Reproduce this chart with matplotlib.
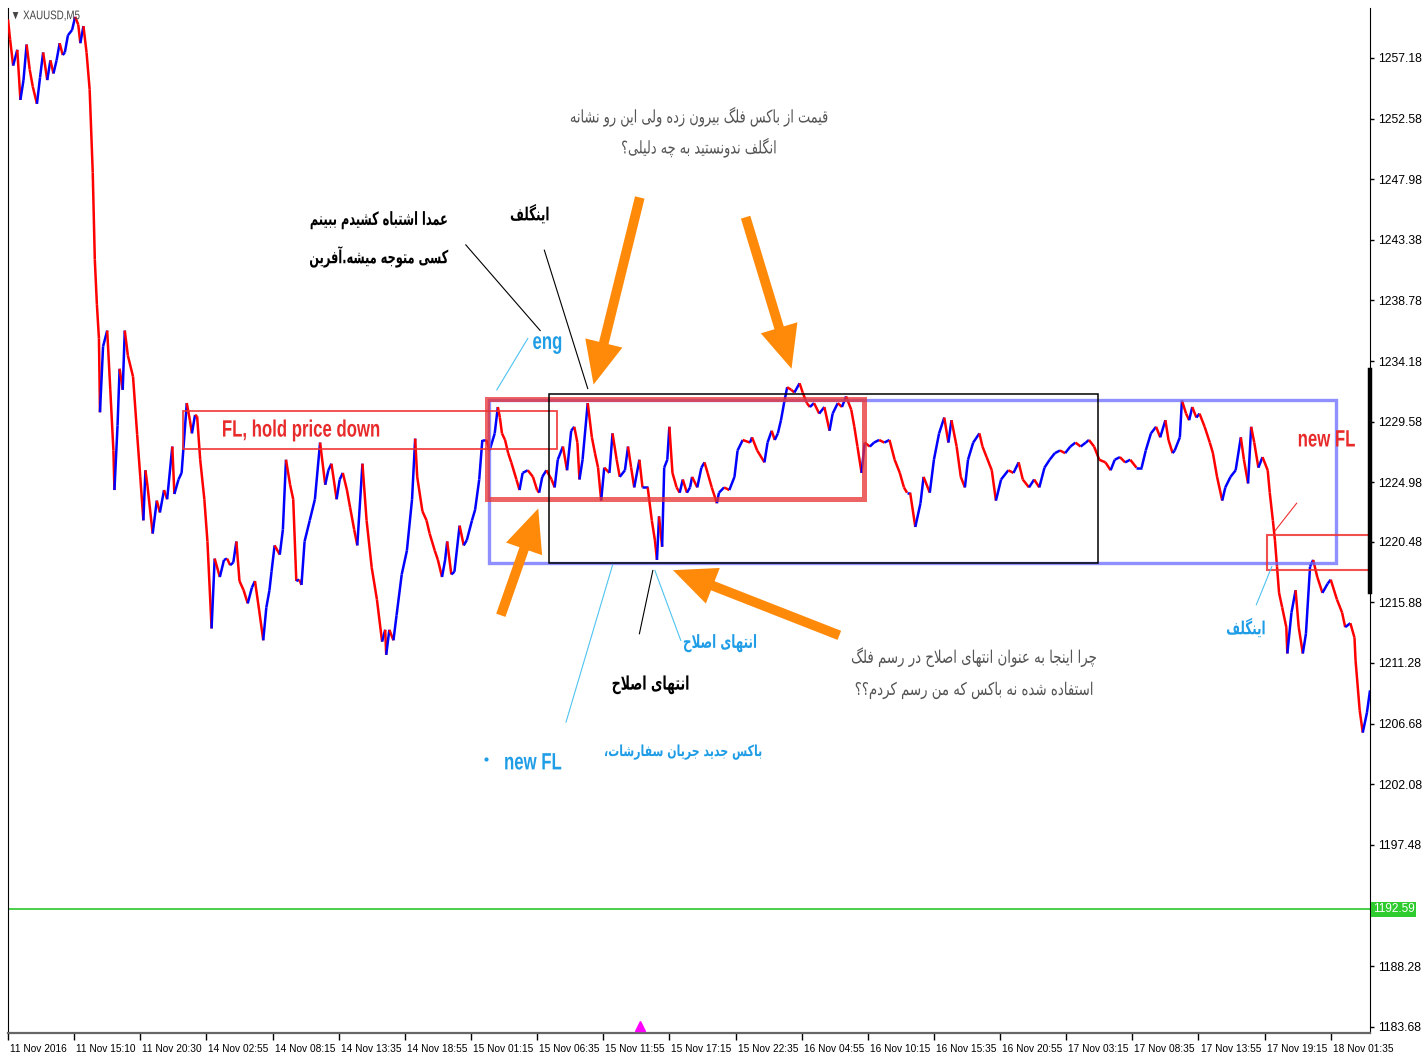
import numpy as np
import matplotlib
matplotlib.use('Agg')
import matplotlib.pyplot as plt
import matplotlib.transforms as mtransforms
from matplotlib.collections import LineCollection
from matplotlib.patches import Rectangle, FancyArrowPatch
from matplotlib.patheffects import AbstractPathEffect

# ---- data (bar index of M5 bars, price) ----
bar_idx = [0, 2, 5, 9, 12, 15, 18, 21, 24, 28, 31, 34, 38, 41, 44, 47, 50, 53, 55, 58,
           62, 65, 68, 70, 73, 76, 79, 82, 84, 86, 88, 89, 92, 96, 99, 102, 103, 106, 108, 111,
           113, 116, 121, 125, 128, 131, 133, 135, 140, 144, 147, 151, 154, 159, 161, 165, 168, 173, 176, 178,
           181, 183, 186, 190, 193, 197, 200, 205, 209, 212, 215, 218, 221, 224, 228, 232, 236, 239, 243, 247,
           250, 253, 255, 258, 263, 266, 269, 273, 276, 279, 282, 284, 287, 292, 297, 302, 307, 310, 313, 318,
           321, 324, 328, 331, 335, 338, 343, 347, 352, 357, 362, 365, 366, 369, 373, 376, 381, 386, 391, 394,
           396, 401, 405, 408, 413, 416, 420, 423, 425, 429, 432, 437, 441, 444, 449, 452, 456, 459, 463, 466,
           471, 474, 476, 478, 481, 484, 487, 492, 495, 498, 503, 508, 512, 514, 517, 521, 526, 529, 532, 537,
           541, 545, 548, 551, 553, 556, 561, 565, 568, 571, 574, 577, 582, 585, 589, 592, 597, 600, 603, 606,
           611, 614, 619, 623, 626, 628, 630, 633, 635, 638, 640, 643, 647, 650, 653, 657, 660, 662, 667, 671,
           674, 677, 681, 686, 688, 693, 698, 703, 706, 711, 718, 720, 725, 732, 735, 739, 742, 745, 748, 751,
           754, 758, 761, 766, 769, 773, 776, 780, 785, 790, 795, 798, 803, 807, 811, 816, 819, 822, 826, 829,
           834, 838, 843, 848, 853, 858, 863, 867, 870, 873, 878, 883, 886, 892, 896, 901, 906, 910, 913, 918,
           922, 926, 929, 934, 940, 943, 947, 952, 956, 961, 968, 973, 978, 982, 988, 993, 998, 1003, 1008, 1013,
           1018, 1023, 1028, 1033, 1038, 1043, 1046, 1051, 1056, 1062, 1067, 1071, 1076, 1081, 1086, 1092, 1097, 1101, 1106, 1111,
           1115, 1120, 1123, 1127, 1129, 1134, 1136, 1140, 1143, 1146, 1150, 1153, 1158, 1163, 1166, 1170, 1175, 1178, 1183, 1188,
           1193, 1196, 1200, 1203, 1206, 1210, 1214, 1219, 1221, 1224, 1226, 1228, 1230, 1233, 1237, 1238, 1242, 1246, 1249, 1253,
           1256, 1260, 1263, 1267, 1272, 1277, 1280, 1286, 1291, 1294, 1299, 1303, 1304, 1308, 1311, 1315, 1318]

close = [1260.1, 1258.6, 1256.6, 1257.8, 1254.0, 1255.5, 1258.2, 1256.3, 1255.0, 1253.7, 1255.7, 1257.6, 1255.5, 1257.0, 1256.0, 1257.0, 1258.3, 1257.4, 1257.6, 1258.9,
         1259.3, 1260.3, 1259.7, 1258.3, 1259.6, 1257.6, 1254.8, 1248.5, 1241.9, 1238.5, 1235.9, 1230.3, 1235.3, 1236.5, 1232.0, 1227.4, 1224.4, 1229.3, 1233.6, 1232.0,
         1236.5, 1234.6, 1233.0, 1228.6, 1225.4, 1222.1, 1225.9, 1224.7, 1221.1, 1223.6, 1222.7, 1224.4, 1223.7, 1227.7, 1224.1, 1225.2, 1225.7, 1231.0, 1229.7, 1228.7,
         1230.1, 1230.0, 1226.7, 1223.7, 1220.5, 1213.9, 1219.2, 1217.8, 1219.1, 1219.2, 1218.7, 1218.9, 1220.5, 1217.5, 1216.8, 1215.8, 1217.0, 1217.5, 1215.3, 1213.0,
         1215.5, 1216.8, 1218.2, 1220.2, 1219.5, 1221.4, 1226.7, 1224.8, 1223.7, 1217.5, 1217.6, 1217.2, 1220.5, 1222.1, 1223.7, 1228.0, 1224.8, 1225.9, 1226.4, 1223.7,
         1225.2, 1225.7, 1224.4, 1223.1, 1221.4, 1220.2, 1226.4, 1222.1, 1218.5, 1216.1, 1212.9, 1213.8, 1211.9, 1213.8, 1213.0, 1214.9, 1218.0, 1219.8, 1223.7, 1228.3,
         1225.4, 1222.8, 1222.1, 1221.1, 1219.8, 1219.1, 1217.8, 1219.1, 1220.5, 1218.0, 1218.2, 1221.7, 1220.2, 1220.6, 1222.1, 1222.9, 1225.2, 1228.2, 1228.2, 1227.4,
         1228.7, 1230.7, 1229.9, 1228.7, 1228.2, 1227.2, 1226.5, 1225.2, 1224.4, 1225.7, 1225.9, 1225.4, 1224.4, 1224.2, 1225.4, 1225.9, 1225.2, 1224.6, 1226.7, 1227.7,
         1225.9, 1228.9, 1229.2, 1228.0, 1225.2, 1226.7, 1231.0, 1228.4, 1227.2, 1226.1, 1223.6, 1226.1, 1225.7, 1228.7, 1226.7, 1225.4, 1225.9, 1227.7, 1226.1, 1224.6,
         1226.7, 1224.6, 1224.6, 1222.1, 1220.6, 1219.1, 1222.4, 1220.1, 1226.1, 1226.7, 1229.2, 1225.7, 1224.6, 1224.2, 1225.2, 1224.2, 1224.6, 1225.4, 1224.6, 1226.1,
         1226.5, 1225.7, 1224.6, 1223.4, 1224.2, 1224.6, 1224.4, 1225.4, 1227.4, 1228.2, 1228.0, 1228.4, 1227.4, 1226.5, 1228.0, 1228.9, 1228.2, 1228.7, 1229.7, 1231.0,
         1232.2, 1232.0, 1231.8, 1232.5, 1231.8, 1231.0, 1230.7, 1231.0, 1230.2, 1230.7, 1228.9, 1230.2, 1231.0, 1230.7, 1231.5, 1230.5, 1229.2, 1227.7, 1225.7, 1228.0,
         1227.7, 1228.0, 1228.2, 1228.0, 1228.2, 1226.7, 1225.7, 1224.6, 1224.2, 1224.2, 1221.6, 1223.4, 1225.4, 1224.2, 1226.7, 1228.7, 1229.9, 1228.0, 1229.7, 1227.7,
         1225.4, 1224.6, 1226.7, 1228.0, 1228.7, 1227.7, 1226.9, 1225.9, 1223.6, 1225.2, 1225.9, 1225.7, 1226.5, 1225.2, 1224.6, 1225.2, 1224.6, 1226.1, 1226.7, 1227.2,
         1227.4, 1227.2, 1227.7, 1228.0, 1227.7, 1228.0, 1228.2, 1227.7, 1226.7, 1226.5, 1225.9, 1226.7, 1226.9, 1226.5, 1226.7, 1226.1, 1226.1, 1227.4, 1228.7, 1229.2,
         1228.4, 1229.7, 1228.2, 1227.2, 1227.4, 1228.4, 1231.2, 1230.2, 1229.7, 1230.7, 1229.9, 1230.2, 1229.2, 1228.0, 1227.2, 1225.4, 1223.6, 1224.6, 1225.4, 1225.9,
         1228.4, 1226.7, 1224.9, 1229.2, 1228.0, 1226.1, 1226.9, 1225.9, 1224.2, 1222.1, 1220.6, 1218.6, 1216.6, 1215.5, 1214.0, 1212.0, 1215.1, 1216.8, 1214.0, 1212.0,
         1213.5, 1218.6, 1219.1, 1217.8, 1216.6, 1217.3, 1217.6, 1216.1, 1215.1, 1214.0, 1214.3, 1213.2, 1211.5, 1207.7, 1206.0, 1207.5, 1209.2]

price_ticks = [1257.18, 1252.58, 1247.98, 1243.38, 1238.78, 1234.18, 1229.58, 1224.98,
               1220.48, 1215.88, 1211.28, 1206.68, 1202.08, 1197.48, 1188.28, 1183.68]
time_labels = ['11 Nov 2016', '11 Nov 15:10', '11 Nov 20:30', '14 Nov 02:55', '14 Nov 08:15',
               '14 Nov 13:35', '14 Nov 18:55', '15 Nov 01:15', '15 Nov 06:35', '15 Nov 11:55',
               '15 Nov 17:15', '15 Nov 22:35', '16 Nov 04:55', '16 Nov 10:15', '16 Nov 15:35',
               '16 Nov 20:55', '17 Nov 03:15', '17 Nov 08:35', '17 Nov 13:55', '17 Nov 19:15',
               '18 Nov 01:35']
bars_per_label = 64
current_price = 1192.59

# boxes drawn on the chart: (first bar, last bar, low, high)
fl_box = (169, 531, 1227.5, 1230.4)
flag_box = (464, 828, 1223.7, 1231.3)
range_box = (524, 1055, 1218.9, 1231.7)
blue_box = (465, 1285, 1218.9, 1231.2)
new_fl_box = (1218, 1340, 1218.3, 1221.0)

# ---- Persian text shaping (matplotlib has no Arabic shaping / bidi) ----
FORMS = {
    '\u0622': ('\uFE81', '\uFE82', None, None),
    '\u0627': ('\uFE8D', '\uFE8E', None, None),
    '\u0628': ('\uFE8F', '\uFE90', '\uFE91', '\uFE92'),
    '\u067E': ('\uFB56', '\uFB57', '\uFB58', '\uFB59'),
    '\u062A': ('\uFE95', '\uFE96', '\uFE97', '\uFE98'),
    '\u062B': ('\uFE99', '\uFE9A', '\uFE9B', '\uFE9C'),
    '\u062C': ('\uFE9D', '\uFE9E', '\uFE9F', '\uFEA0'),
    '\u0686': ('\uFB7A', '\uFB7B', '\uFB7C', '\uFB7D'),
    '\u062D': ('\uFEA1', '\uFEA2', '\uFEA3', '\uFEA4'),
    '\u062E': ('\uFEA5', '\uFEA6', '\uFEA7', '\uFEA8'),
    '\u062F': ('\uFEA9', '\uFEAA', None, None),
    '\u0630': ('\uFEAB', '\uFEAC', None, None),
    '\u0631': ('\uFEAD', '\uFEAE', None, None),
    '\u0632': ('\uFEAF', '\uFEB0', None, None),
    '\u0698': ('\uFB8A', '\uFB8B', None, None),
    '\u0633': ('\uFEB1', '\uFEB2', '\uFEB3', '\uFEB4'),
    '\u0634': ('\uFEB5', '\uFEB6', '\uFEB7', '\uFEB8'),
    '\u0635': ('\uFEB9', '\uFEBA', '\uFEBB', '\uFEBC'),
    '\u0636': ('\uFEBD', '\uFEBE', '\uFEBF', '\uFEC0'),
    '\u0637': ('\uFEC1', '\uFEC2', '\uFEC3', '\uFEC4'),
    '\u0638': ('\uFEC5', '\uFEC6', '\uFEC7', '\uFEC8'),
    '\u0639': ('\uFEC9', '\uFECA', '\uFECB', '\uFECC'),
    '\u063A': ('\uFECD', '\uFECE', '\uFECF', '\uFED0'),
    '\u0641': ('\uFED1', '\uFED2', '\uFED3', '\uFED4'),
    '\u0642': ('\uFED5', '\uFED6', '\uFED7', '\uFED8'),
    '\u06A9': ('\uFB8E', '\uFB8F', '\uFB90', '\uFB91'),
    '\u06AF': ('\uFB92', '\uFB93', '\uFB94', '\uFB95'),
    '\u0644': ('\uFEDD', '\uFEDE', '\uFEDF', '\uFEE0'),
    '\u0645': ('\uFEE1', '\uFEE2', '\uFEE3', '\uFEE4'),
    '\u0646': ('\uFEE5', '\uFEE6', '\uFEE7', '\uFEE8'),
    '\u0648': ('\uFEED', '\uFEEE', None, None),
    '\u0647': ('\uFEE9', '\uFEEA', '\uFEEB', '\uFEEC'),
    '\u06CC': ('\uFBFC', '\uFBFD', '\uFBFE', '\uFBFF'),
}
LAM_ALEF = {'\u0627': ('\uFEFB', '\uFEFC'), '\u0622': ('\uFEF5', '\uFEF6')}


def fa(text):
    chars = list(text)
    out = []
    i = 0
    while i < len(chars):
        c = chars[i]
        prev = chars[i - 1] if i > 0 else None
        joins_prev = prev in FORMS and FORMS[prev][2] is not None
        if c not in FORMS:
            out.append(c)
            i += 1
            continue
        nxt = chars[i + 1] if i + 1 < len(chars) else None
        if c == '\u0644' and nxt in LAM_ALEF:
            out.append(LAM_ALEF[nxt][1 if joins_prev else 0])
            i += 2
            continue
        iso, fin, ini, med = FORMS[c]
        joins_next = ini is not None and nxt in FORMS
        if joins_prev and joins_next:
            out.append(med)
        elif joins_prev:
            out.append(fin)
        elif joins_next:
            out.append(ini)
        else:
            out.append(iso)
        i += 1
    return ''.join(reversed(out))


# the screenshot's fonts are squeezed sideways; draw text narrower around its anchor
class Squeeze(AbstractPathEffect):
    def __init__(self, text, sx):
        super().__init__()
        self.text = text
        self.sx = sx

    def draw_path(self, renderer, gc, tpath, affine, rgbFace=None):
        x0 = self.text.get_transform().transform(self.text.get_unitless_position())[0]
        sq = mtransforms.Affine2D().translate(-x0, 0).scale(self.sx, 1).translate(x0, 0)
        renderer.draw_path(gc, tpath, affine + sq, rgbFace)


def squeeze(t, sx):
    t.set_path_effects([Squeeze(t, sx)])
    return t


# ---- figure ----
fig = plt.figure(figsize=(14.22, 10.58), dpi=100)
ax = fig.add_axes([8 / 1422, 25 / 1058, 1362 / 1422, 1025 / 1058])
ax.set_xlim(0, 1318)
ax.set_ylim(1183.21, 1260.97)

latin = ['Liberation Sans', 'DejaVu Sans']
fa_font = ['DejaVu Sans']

# price line, blue when rising, red when falling
pts = np.column_stack([bar_idx, close])
segs = np.stack([pts[:-1], pts[1:]], axis=1)
cols = ['#0000ff' if b >= a else '#ff0000' for a, b in zip(close[:-1], close[1:])]
ax.add_collection(LineCollection(segs, colors=cols, linewidths=1.8, zorder=3))

ax.axhline(current_price, color='#3ccc3c', lw=1.3, zorder=2)

# boxes
def box(b, color, lw, alpha=1.0, z=4):
    x0, x1, lo, hi = b
    ax.add_patch(Rectangle((x0, lo), x1 - x0, hi - lo, fill=False, edgecolor=color,
                           lw=lw, alpha=alpha, zorder=z))

box(blue_box, '#6a6aff', 2.4, 0.75)
box(fl_box, '#f03030', 1.3, 0.9)
box(flag_box, '#e83030', 3.6, 0.75)
box(range_box, '#000000', 1.1)
box(new_fl_box, '#f03030', 1.5, 0.85)

# thin pointer lines
def seg(p0, p1, color, lw=0.8):
    ax.plot([p0[0], p1[0]], [p0[1], p1[1]], color=color, lw=lw, zorder=5)

seg((443, 1243.0), (515, 1236.5), 'black')
seg((519, 1242.6), (561, 1232.1), 'black')
seg((503, 1235.9), (473, 1232.0), '#4fc3f0')
seg((585, 1218.7), (540, 1206.8), '#4fc3f0')
seg((624, 1218.3), (611, 1213.5), 'black')
seg((626, 1218.3), (651, 1213.0), '#4fc3f0')
seg((1247, 1223.4), (1226, 1221.3), '#f03030')
seg((1223, 1218.6), (1208, 1215.7), '#4fc3f0')

# orange arrows (tail -> tip)
arrows = [((612, 1246.8), (566, 1232.2)),
          ((713, 1245.3), (759, 1233.4)),
          ((476, 1214.7), (514, 1223.2)),
          ((807, 1213.3), (641, 1218.4))]
for tail, tip in arrows:
    ax.add_patch(FancyArrowPatch(tail, tip, arrowstyle='simple,head_length=1.4,head_width=1.25,tail_width=0.32',
                                 mutation_scale=22, color='#ff8a0a', lw=0, zorder=6))

# annotations
light_blue = '#1f9de6'
gray = '#555555'


def note(x, y, s, size, sx, color, bold=False, ha='center'):
    t = ax.text(x, y, fa(s), family=fa_font, fontsize=size, color=color, ha=ha, va='center',
                fontweight='bold' if bold else 'normal', zorder=7)
    squeeze(t, sx)


note(669, 1252.7, 'قیمت از باکس فلگ بیرون زده ولی این رو نشانه', 12.5, 0.744, gray)
note(669, 1250.35, 'انگلف ندونستید به چه دلیلی؟', 12.5, 0.744, gray)
note(426, 1244.9, 'عمدا اشتباه کشیدم ببینم', 13, 0.63, 'black', True, 'right')
note(426, 1242.1, 'کسی متوجه میشه.آفرین', 13, 0.63, 'black', True, 'right')
note(505, 1245.3, 'اینگلف', 13, 0.66, 'black', True)
note(689, 1212.8, 'انتهای اصلاح', 13, 0.66, light_blue, True)
note(622, 1209.6, 'انتهای اصلاح', 13.5, 0.667, 'black', True)
note(935, 1211.7, 'چرا اینجا به عنوان انتهای اصلاح در رسم فلگ', 12.5, 0.768, gray)
note(935, 1209.2, 'استفاده شده نه باکس که من رسم کردم؟؟', 12.5, 0.768, gray)
note(653, 1204.5, 'باکس جدید جریان سفارشات،', 11, 0.72, light_blue, True)
note(1198, 1213.9, 'اینگلف', 13, 0.66, light_blue, True)


def label(x, y, s, color, ha='center'):
    t = ax.text(x, y, s, family=latin, fontsize=17, fontweight='bold', color=color,
                ha=ha, va='center', zorder=7)
    squeeze(t, 0.71)


label(508, 1203.7, 'new FL', light_blue)
label(522, 1235.6, 'eng', light_blue)
label(207, 1228.95, 'FL, hold price down', '#e82a2a', ha='left')
label(1276, 1228.2, 'new FL', '#e82a2a')
ax.plot([463], [1204.0], marker='o', ms=2, color=light_blue, zorder=7)

squeeze(ax.text(0.002, 0.992, '\u25bc XAUUSD,M5', transform=ax.transAxes, family=latin,
                fontsize=9, color='#444444', ha='left', va='center', zorder=8), 0.78)

# axes styling (MT4 look)
ax.spines['top'].set_visible(False)
ax.spines['left'].set_color('black')
ax.spines['right'].set_color('black')
ax.spines['bottom'].set_color('#666666')
ax.spines['bottom'].set_linewidth(1.6)

ax.yaxis.tick_right()
ax.set_yticks(price_ticks)
ax.set_yticklabels([f'{v:.2f}' for v in price_ticks])
ax.tick_params(axis='y', length=3, width=1, pad=3, labelsize=8.7, colors='black')
ax.set_xticks(np.arange(len(time_labels)) * bars_per_label)
ax.set_xticklabels(time_labels)
ax.tick_params(axis='x', length=5, width=1, pad=3, labelsize=7.3)
offset = mtransforms.ScaledTranslation(1.5 / 72, 0, fig.dpi_scale_trans)
for lbl in ax.get_xticklabels():
    lbl.set_ha('left')
    lbl.set_fontfamily(latin)
    lbl.set_transform(lbl.get_transform() + offset)
for lbl in ax.get_yticklabels():
    lbl.set_fontfamily(latin)

right_edge = mtransforms.blended_transform_factory(ax.transAxes, ax.transData)
ax.plot([1, 1], [1233.5, 1216.7], transform=right_edge, color='black', lw=3.2,
        clip_on=False, zorder=9)
ax.text(1.002, current_price, f'{current_price:.2f}', transform=right_edge,
        family=latin, fontsize=8.5, color='white', ha='left', va='center',
        bbox=dict(facecolor='#2ecc2e', edgecolor='none', pad=1.2), clip_on=False)

bottom_edge = mtransforms.blended_transform_factory(ax.transData, ax.transAxes)
ax.plot([612], [0.007], transform=bottom_edge, marker='^', color='#ff00ff', ms=7,
        clip_on=False, zorder=9)

fig.savefig('out.png', dpi=100, facecolor='white')
